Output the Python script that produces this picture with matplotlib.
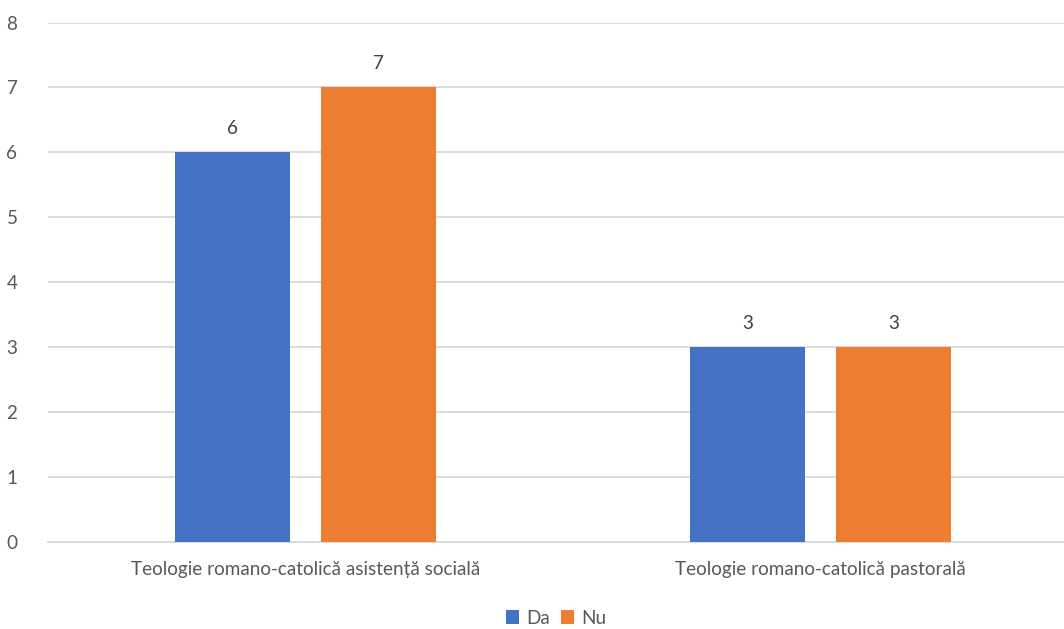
import numpy as np
import matplotlib
matplotlib.use("Agg")
from matplotlib import pyplot as plt

# data
categories = ["Teologie romano-catolică asistență socială", "Teologie romano-catolică pastorală"]
series_names = ["Da", "Nu"]
da_values = [6, 3]
nu_values = [7, 3]
y_ticks = [0, 1, 2, 3, 4, 5, 6, 7, 8]

colors = ["#4472C4", "#ED7D31"]
text_color = "#595959"
grid_color = "#D9D9D9"

plt.rcParams["font.family"] = ["Lato", "DejaVu Sans"]

fig = plt.figure(figsize=(10.64, 6.29), dpi=100)
ax = fig.add_axes([48 / 1064, 87 / 629, 1030 / 1064, 519.5 / 629])

x = np.arange(len(categories))
width = 0.2233
offset = 0.1417

bars_da = ax.bar(x - offset, da_values, width, color=colors[0], label=series_names[0], zorder=3)
bars_nu = ax.bar(x + offset, nu_values, width, color=colors[1], label=series_names[1], zorder=3)

for bars in (bars_da, bars_nu):
    ax.bar_label(bars, padding=11, fontsize=13.6, color="#404040")

ax.set_xlim(-0.5, 1.5)
ax.set_ylim(0, 8)
ax.set_yticks(y_ticks)
ax.set_xticks(x)
ax.set_xticklabels(categories)
ax.tick_params(axis="both", length=0, labelsize=13.6, labelcolor=text_color)
ax.tick_params(axis="y", pad=22)
ax.tick_params(axis="x", pad=14)
ax.yaxis.grid(True, color=grid_color, linewidth=1.3, zorder=0)
ax.set_axisbelow(True)
for side in ("top", "right", "left"):
    ax.spines[side].set_visible(False)
ax.spines["bottom"].set_color(grid_color)
ax.spines["bottom"].set_linewidth(1.3)

fig.legend(
    loc="center",
    bbox_to_anchor=(556 / 1064, 1 - 618 / 629),
    ncol=2,
    frameon=False,
    fontsize=13.6,
    labelcolor=text_color,
    handlelength=0.7,
    handleheight=0.7,
    handletextpad=0.35,
    columnspacing=0.6,
)

fig.savefig("out.png", dpi=100)
